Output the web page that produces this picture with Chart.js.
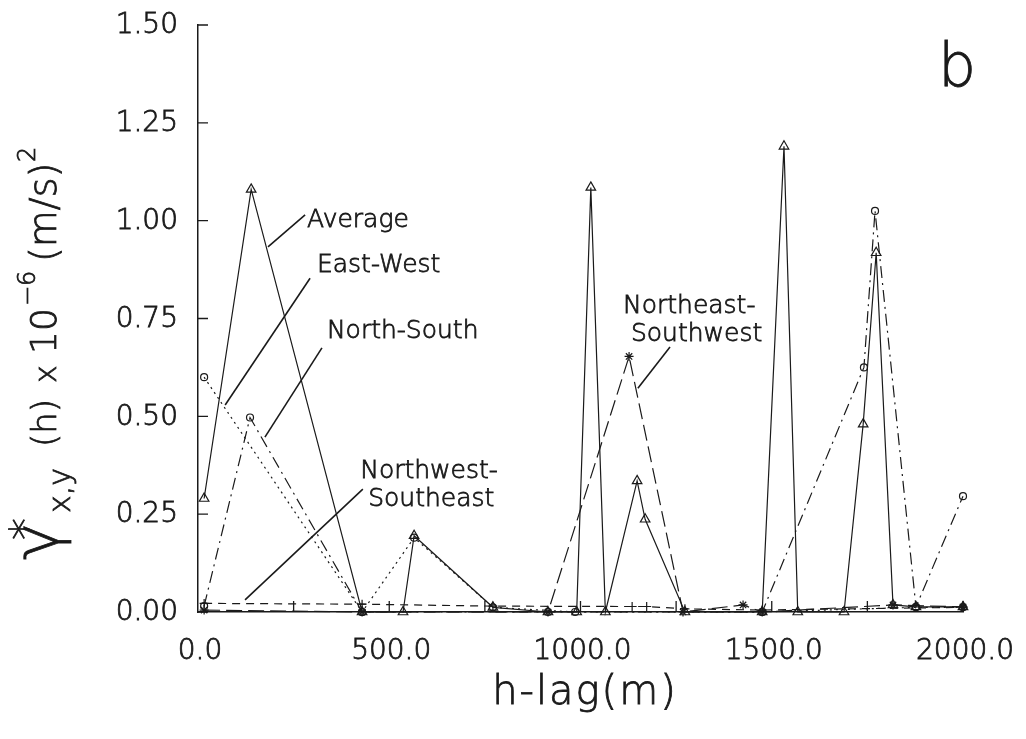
<!DOCTYPE html>
<html>
<head>
<meta charset="utf-8">
<script src="https://cdn.jsdelivr.net/npm/chart.js@4.4.1/dist/chart.umd.min.js"></script>
<style>
  body { margin: 0; background: #fff; }
  canvas { display: block; }
</style>
</head>
<body>
<canvas id="variogram" width="1026" height="739"></canvas>
<script>
  // lag (m) and semivariogram values
  const avgLag = [16, 139, 429, 536, 565, 771, 915, 990, 1027, 1065, 1148, 1169, 1273, 1475, 1532, 1568, 1689, 1739, 1773, 1817, 1877, 2000];
  const avgVal = [0.29, 1.08, 0.0, 0.0, 0.195, 0.012, 0.0, 0.0, 1.085, 0.0, 0.335, 0.237, 0.0, 0.0, 1.19, 0.0, 0.0, 0.48, 0.918, 0.018, 0.013, 0.013];

  const ewLag = [16, 429, 565, 771, 986, 1475, 1877, 2000];
  const ewVal = [0.60, 0.0, 0.19, 0.012, 0.0, 0.0, 0.012, 0.012];

  const nsLag = [16, 136, 429, 915, 1475, 1741, 1770, 1877, 2000];
  const nsVal = [0.015, 0.497, 0.0, 0.0, 0.0, 0.625, 1.025, 0.013, 0.296];

  const neLag = [16, 429, 915, 1127, 1268, 1425, 1475, 1817, 2000];
  const neVal = [0.005, 0.0, 0.0, 0.653, 0.0, 0.018, 0.0, 0.018, 0.013];

  const nwLag = [16, 429, 771, 1135, 1173, 1273, 1475, 2000];
  const nwVal = [0.022, 0.02, 0.015, 0.014, 0.014, 0.008, 0.005, 0.012];

  const xTicks = [0, 500, 1000, 1500, 2000];
  const yTicks = [0, 0.25, 0.5, 0.75, 1.0, 1.25, 1.5];

  const FONT = '"DejaVu Sans", "Noto Sans", sans-serif';
  const INK = "#1a1a1a";

  function pts(lags, vals) {
    return lags.map((x, i) => ({ x: x, y: vals[i] }));
  }

  function series(label, lags, vals, dash, style, radius) {
    return {
      label: label,
      data: pts(lags, vals),
      showLine: true,
      borderColor: INK,
      borderWidth: 1.2,
      borderDash: dash,
      pointStyle: style,
      pointRadius: radius,
      pointBorderColor: INK,
      pointBorderWidth: 1.2,
      pointBackgroundColor: "rgba(0,0,0,0)",
      clip: 10,
    };
  }

  // light lettering, thickened a little with a thin outline
  function letter(ctx, txt, size, x, y) {
    ctx.font = "200 " + size + "px " + FONT;
    ctx.fillText(txt, x, y);
    ctx.lineWidth = 0.8;
    ctx.strokeText(txt, x, y);
  }

  // inward tick marks, tick labels, lettering and leader lines
  const decorations = {
    id: "decorations",
    afterDraw(chart) {
      const ctx = chart.ctx;
      const xs = chart.scales.x;
      const ys = chart.scales.y;
      const X = (v) => xs.getPixelForValue(v);
      const Y = (v) => ys.getPixelForValue(v);

      ctx.save();
      ctx.strokeStyle = INK;
      ctx.fillStyle = INK;
      ctx.lineWidth = 1.3;

      ctx.beginPath();
      for (let v = 250; v <= 2000; v += 250) {
        ctx.moveTo(X(v), Y(0));
        ctx.lineTo(X(v), Y(0) - 11);
      }
      yTicks.forEach((v) => {
        ctx.moveTo(X(0), Y(v));
        ctx.lineTo(X(0) + 10, Y(v));
      });
      ctx.stroke();

      // tick labels
      ctx.textBaseline = "middle";
      ctx.textAlign = "center";
      xTicks.forEach((v) => letter(ctx, v.toFixed(1), 28, X(v) + 2, Y(0) + 40));
      ctx.textAlign = "right";
      yTicks.forEach((v) => letter(ctx, v.toFixed(2), 28, X(0) - 20, Y(v) + 1));

      // labels with pointer lines
      ctx.textAlign = "left";
      ctx.textBaseline = "alphabetic";
      const notes = [
        { t: ["Average"], x: 285, y: 0.985, from: [280, 1.015], to: [183, 0.933] },
        { t: ["East-West"], x: 311, y: 0.868, from: [293, 0.853], to: [71, 0.529] },
        { t: ["North-South"], x: 337, y: 0.70, from: [324, 0.675], to: [175, 0.447] },
        { t: ["Northwest-", " Southeast"], x: 424, y: 0.342, from: [431, 0.314], to: [123, 0.031] },
        { t: ["Northeast-", " Southwest"], x: 1111, y: 0.764, from: [1234, 0.677], to: [1150, 0.572] },
      ];
      notes.forEach((n) => {
        n.t.forEach((line, i) => letter(ctx, line, 25, X(n.x), Y(n.y) + i * 28));
        ctx.lineWidth = 1.6;
        ctx.beginPath();
        ctx.moveTo(X(n.from[0]), Y(n.from[1]));
        ctx.lineTo(X(n.to[0]), Y(n.to[1]));
        ctx.stroke();
      });

      // panel letter
      letter(ctx, "b", 60, 938, 86);

      // x title
      ctx.letterSpacing = "2px";
      ctx.textAlign = "center";
      letter(ctx, "h-lag(m)", 40, 585, 704);
      ctx.letterSpacing = "0px";

      // y title, rotated, each piece placed along the line of text
      ctx.translate(56, 560);
      ctx.rotate(-Math.PI / 2);
      ctx.textAlign = "left";
      letter(ctx, "\u03B3", 62, 0, 2);
      letter(ctx, "*", 44, 20, -14);
      letter(ctx, "x,y", 30, 47, 14);
      letter(ctx, "(h)", 34, 113, 0);
      letter(ctx, "x", 30, 177, 0);
      letter(ctx, "10", 36, 206, 0);
      letter(ctx, "\u22126", 24, 254, -21);
      letter(ctx, "(m/s)", 38, 298, 0);
      letter(ctx, "2", 24, 398, -21);
      ctx.restore();
    },
  };

  new Chart(document.getElementById("variogram").getContext("2d"), {
    type: "scatter",
    data: {
      datasets: [
        series("Average", avgLag, avgVal, [], "triangle", 5.5),
        series("East-West", ewLag, ewVal, [2, 4], "circle", 3.5),
        series("North-South", nsLag, nsVal, [12, 5, 2, 5], "circle", 3.5),
        series("Northeast-Southwest", neLag, neVal, [16, 6], "star", 4.5),
        series("Northwest-Southeast", nwLag, nwVal, [8, 6], "cross", 4.5),
      ],
    },
    options: {
      responsive: false,
      animation: false,
      layout: { padding: { top: 25, right: 63, left: 0, bottom: 0 } },
      plugins: {
        legend: { display: false },
        tooltip: { enabled: false },
      },
      scales: {
        x: {
          type: "linear",
          min: 0,
          max: 2000,
          afterFit: (s) => { s.height = 127; },
          afterBuildTicks: (s) => { s.ticks = xTicks.map((v) => ({ value: v })); },
          grid: { display: false, drawTicks: false },
          border: { display: true, color: INK, width: 1.5 },
          ticks: { display: false },
        },
        y: {
          min: 0,
          max: 1.5,
          afterFit: (s) => { s.width = 198; },
          afterBuildTicks: (s) => { s.ticks = yTicks.map((v) => ({ value: v })); },
          grid: { display: false, drawTicks: false },
          border: { display: true, color: INK, width: 1.5 },
          ticks: { display: false },
        },
      },
    },
    plugins: [decorations],
  });
</script>
</body>
</html>
